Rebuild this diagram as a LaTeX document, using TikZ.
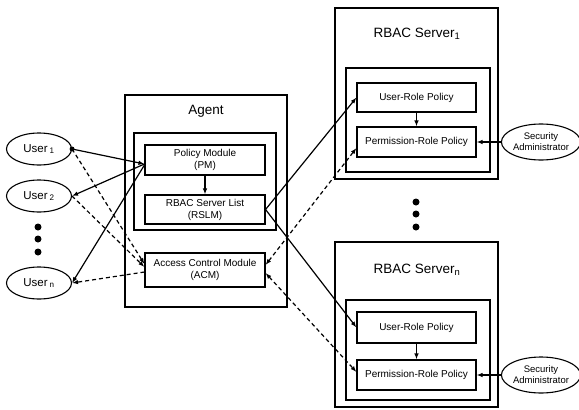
\documentclass[tikz,border=0pt]{standalone}
\usepackage{fontspec}
\setmainfont{Liberation Sans}
\usetikzlibrary{arrows.meta,shapes.geometric,calc}
\begin{document}
\begin{tikzpicture}[x=1pt,y=-1pt,
  outerbox/.style={draw,line width=2.4pt,inner sep=0pt},
  innerbox/.style={draw,line width=1.8pt,inner sep=0pt},
  modbox/.style={draw,line width=1.1pt,inner sep=0pt,font=\fontsize{10}{12}\selectfont,align=center,minimum width=120pt},
  boxtitle/.style={font=\fontsize{13.5}{15}\selectfont},
  userell/.style={draw,ellipse,line width=1.1pt,minimum width=65pt,minimum height=32pt,inner sep=0pt,font=\fontsize{11.5}{13}\selectfont},
  saell/.style={draw,ellipse,line width=1.1pt,minimum width=74pt,minimum height=36pt,inner sep=0pt,font=\fontsize{9.5}{11}\selectfont,align=center},
  conn/.style={line width=1.2pt,-{Latex[length=6pt,width=4.5pt]}},
  dconn/.style={line width=1.2pt,dash pattern=on 4pt off 3pt,-{Latex[length=6pt,width=4.5pt]}},
  ddconn/.style={line width=1.2pt,dash pattern=on 4pt off 3pt,{Latex[length=6pt,width=4.5pt]}-{Latex[length=6pt,width=4.5pt]}},
  bigdot/.style={circle,fill,inner sep=0pt,minimum size=7pt},
  smalldot/.style={circle,fill,inner sep=0pt,minimum size=5pt}]
\useasboundingbox (0,0) rectangle (579,410);

% Agent
\node[outerbox,minimum width=162pt,minimum height=212pt] (agent) at (206,201) {};
\node[boxtitle] (agenttitle) at (206,111) {Agent};
\node[innerbox,minimum width=142pt,minimum height=97pt] (agentin) at (205,181.5) {};
\node[modbox,minimum height=30pt] (pm) at (205,160) {Policy Module\\(PM)};
\node[modbox,minimum height=29pt] (rslm) at (205,209.5) {RBAC Server List\\(RSLM)};
\node[modbox,minimum height=34pt] (acm) at (205,270) {Access Control Module\\(ACM)};
\draw[conn] (pm) -- (rslm);

% RBAC Server 1
\node[outerbox,minimum width=163pt,minimum height=171pt] (srv1) at (416.5,93.5) {};
\node[boxtitle] (srv1title) at (417,34) {RBAC Server\textsubscript{1}};
\node[innerbox,minimum width=144pt,minimum height=104pt] (srv1in) at (418,120) {};
\node[modbox,minimum width=119pt,minimum height=29pt] (urp1) at (416.5,97.5) {User-Role Policy};
\node[modbox,minimum width=119pt,minimum height=30pt] (prp1) at (416.5,142) {Permission-Role Policy};
\draw[conn] (urp1) -- (prp1);
\node[saell] (sa1) at (541,142) {Security\\Administrator};
\draw[conn] (sa1) -- (prp1);

% dots between servers
\node[bigdot] (sd1) at (416,202) {};
\node[bigdot] (sd2) at (416,214) {};
\node[bigdot] (sd3) at (416,227) {};

% RBAC Server n
\node[outerbox,minimum width=163pt,minimum height=165pt] (srvn) at (416.5,324.5) {};
\node[boxtitle] (srvntitle) at (417,270) {RBAC Server\textsubscript{n}};
\node[innerbox,minimum width=144pt,minimum height=100pt] (srvnin) at (418,350) {};
\node[modbox,minimum width=119pt,minimum height=31pt] (urpn) at (416.5,327.5) {User-Role Policy};
\node[modbox,minimum width=119pt,minimum height=30pt] (prpn) at (416.5,375) {Permission-Role Policy};
\draw[conn] (urpn) -- (prpn);
\node[saell] (san) at (541,375) {Security\\Administrator};
\draw[conn] (san) -- (prpn);

% Users
\node[userell] (u1) at (39,149) {User\,\textsubscript{1}};
\node[userell] (u2) at (39,196) {User\,\textsubscript{2}};
\node[bigdot] (ud1) at (38,227) {};
\node[bigdot] (ud2) at (38,239) {};
\node[bigdot] (ud3) at (38,252) {};
\node[userell] (un) at (39,283) {User\,\textsubscript{n}};
\node[smalldot] (u1dot) at (u1.east) {};

% user <-> agent
\draw[conn] (u1.east) -- ($(pm.west)+(0,4)$);
\draw[conn] ($(pm.west)+(0,4)$) -- (u2.east);
\draw[conn] ($(pm.west)+(0,5)$) -- (un.east);
\draw[dconn] (u1.east) -- ($(acm.west)+(0,-6)$);
\draw[dconn] (u2.east) -- ($(acm.west)+(0,-3)$);
\draw[dconn] ($(acm.west)+(0,2)$) -- (un.east);

% agent <-> servers
\draw[conn] (rslm.east) -- (urp1.west);
\draw[conn] (rslm.east) -- (urpn.west);
\draw[ddconn] ($(acm.east)+(0,-5)$) -- ($(prp1.west)+(0,6)$);
\draw[ddconn] ($(acm.east)+(0,3)$) -- ($(prpn.west)+(0,-3)$);
\end{tikzpicture}
\end{document}
